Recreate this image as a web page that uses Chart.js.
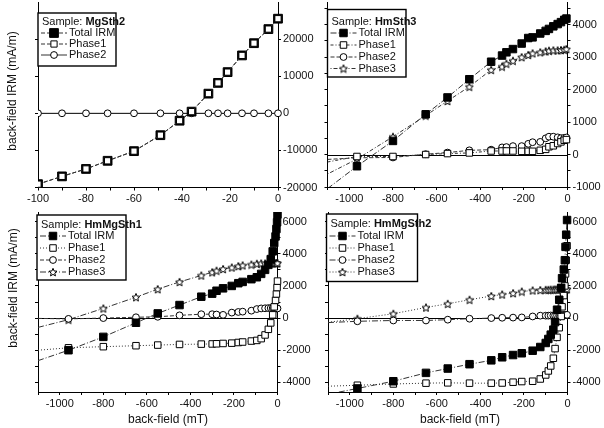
<!DOCTYPE html>
<html>
<head>
<meta charset="utf-8">
<script src="https://cdn.jsdelivr.net/npm/chart.js@4.4.1/dist/chart.umd.min.js"></script>
<style>
  html, body { margin: 0; padding: 0; background: #fff; }
  #wrap { position: relative; width: 604px; height: 428px; }
  #wrap canvas { position: absolute; left: 0; top: 0; }
</style>
</head>
<body>
<div id="wrap">
  <canvas id="tl" width="604" height="428"></canvas>
  <canvas id="tr" width="604" height="428"></canvas>
  <canvas id="bl" width="604" height="428"></canvas>
  <canvas id="br" width="604" height="428"></canvas>
</div>
<script>
// sample MgSth2 (top left), back-field in mT, IRM in mA/m
const tlField = [-100, -90, -80, -71, -60, -49, -41, -36, -29, -25, -21, -15, -10, -4, 0];
const tlTotal = [-19100, -17000, -15000, -12800, -10200, -5900, -2000, 450, 5300, 8200, 11100, 15600, 18900, 22700, 25500];
const tlPhase1 = [-19100, -17000, -15000, -12800, -10200, -5900, -2000, 450, 5300, 8200, 11100, 15600, 18900, 22700, 25500];
const tlPhase2 = [0, 0, 0, 0, 0, 0, 0, 0, 0, 0, 0, 0, 0, 0, 0];

// sample HmSth3 (top right), first point is where the curves meet the axis
const trField = [-1100, -965, -800, -650, -550, -450, -350, -300, -280, -250, -210, -180, -160, -125, -100, -85, -65, -45, -30, -15, -5];
const trTotal = [-1050, -360, 420, 1240, 1760, 2320, 2860, 3050, 3150, 3250, 3420, 3590, 3610, 3730, 3810, 3870, 3950, 4020, 4080, 4150, 4190];
const trPhase1 = [-230, -60, -60, 0, 30, 50, 110, 110, 110, 110, 100, 100, 100, 130, 160, 240, 270, 340, 390, 440, 460];
const trPhase2 = [-150, -100, -90, 10, 60, 130, 150, 220, 230, 260, 260, 330, 380, 390, 500, 550, 550, 530, 505, 515, 525];
const trPhase3 = [-600, -140, 550, 1200, 1650, 2090, 2610, 2710, 2800, 2890, 3000, 3070, 3120, 3150, 3180, 3200, 3210, 3210, 3220, 3230, 3250];

// sample HmMgSth1 (bottom left)
const blField = [-1100, -960, -800, -650, -550, -450, -350, -300, -280, -250, -210, -180, -160, -120, -95, -75, -57, -42, -31, -22, -15, -9, -5, -2, 0];
const blTotal = [-2650, -2000, -1170, -290, 290, 810, 1330, 1520, 1700, 1850, 2000, 2170, 2250, 2420, 2540, 2750, 3000, 3310, 3670, 4150, 4670, 5080, 5540, 5960, 6440];
const blPhase1 = [-2000, -1850, -1780, -1720, -1680, -1640, -1620, -1610, -1600, -1580, -1560, -1520, -1490, -1430, -1390, -1280, -1050, -700, -300, 200, 700, 1100, 1500, 1900, 2300];
const blPhase2 = [-20, -50, 0, 50, 80, 170, 240, 240, 220, 200, 340, 380, 400, 460, 560, 600, 610, 620, 620, 620, 620, 600, 600, 600, 600];
const blPhase3 = [-580, -100, 600, 1300, 1800, 2250, 2650, 2850, 2950, 3050, 3150, 3230, 3280, 3330, 3380, 3400, 3400, 3400, 3410, 3410, 3420, 3420, 3420, 3420, 3420];

// sample HmMgSth2 (bottom right)
const brField = [-1100, -965, -800, -650, -550, -450, -350, -300, -250, -210, -160, -125, -100, -88, -77, -65, -57, -48, -38, -29, -25, -17, -12, -9, -6, -2];
const brTotal = [-4740, -4380, -3930, -3410, -3140, -2870, -2630, -2440, -2300, -2190, -2030, -1800, -1550, -1300, -1030, -720, -250, 520, 1140, 1880, 2480, 3020, 3600, 4430, 5190, 6100];
const brPhase1 = [-4240, -4180, -4100, -4050, -4030, -4050, -4050, -4040, -3990, -3950, -3930, -3790, -3540, -3290, -2980, -2500, -1900, -1200, -600, 100, 700, 1400, 2000, 2750, 3600, 4500];
const brPhase2 = [-280, -200, -150, -150, -100, -40, 0, 20, 30, 40, 100, 150, 150, 150, 160, 160, 170, 170, 180, 180, 190, 190, 200, 200, 200, 200];
const brPhase3 = [-260, -40, 270, 660, 890, 1140, 1370, 1470, 1550, 1650, 1720, 1740, 1760, 1760, 1770, 1770, 1780, 1780, 1790, 1790, 1800, 1800, 1800, 1800, 1800, 1800];

// tick labels (major) and unlabeled minor ticks
const tlXTicks = [-100, -80, -60, -40, -20, 0];
const tlXMinor = [-90, -70, -50, -30, -10];
const tlYTicks = [-20000, -10000, 0, 10000, 20000];
const tlYMinor = [];
const fieldTicks = [-1000, -800, -600, -400, -200, 0];
const fieldMinor = [-1100, -900, -700, -500, -300, -100];
const trYTicks = [-1000, 0, 1000, 2000, 3000, 4000];
const trYMinor = [-500, 500, 1500, 2500, 3500, 4500];
const botYTicks = [-4000, -2000, 0, 2000, 4000, 6000];
const botYMinor = [-3000, -1000, 1000, 3000, 5000];

const FONT = "'Liberation Sans', Arial, Helvetica, sans-serif";
Chart.defaults.font.family = FONT;
Chart.defaults.font.size = 11;
Chart.defaults.color = '#111';

// open five point star used as marker for Phase3
function makeStar(size) {
  const c = document.createElement('canvas');
  c.width = c.height = size;
  const g = c.getContext('2d');
  const cx = size / 2, cy = size / 2 + 0.5, R = size / 2 - 0.8, r = R * 0.45;
  g.beginPath();
  for (let i = 0; i < 10; i++) {
    const a = -Math.PI / 2 + i * Math.PI / 5;
    const rad = i % 2 ? r : R;
    g.lineTo(cx + rad * Math.cos(a), cy + rad * Math.sin(a));
  }
  g.closePath();
  g.fillStyle = '#fff';
  g.fill();
  g.lineWidth = 1;
  g.strokeStyle = '#000';
  g.stroke();
  return c;
}
const STAR = makeStar(10);

function drawMarker(ctx, m, x, y) {
  if (m.kind === 'star') {
    ctx.drawImage(STAR, x - STAR.width / 2, y - STAR.height / 2);
    return;
  }
  ctx.beginPath();
  if (m.kind === 'circle') ctx.arc(x, y, m.r, 0, Math.PI * 2);
  else {
    const h = m.r * Math.SQRT1_2;
    ctx.rect(x - h, y - h, 2 * h, 2 * h);
  }
  ctx.fillStyle = m.kind === 'filled' ? '#000' : '#fff';
  ctx.fill();
  ctx.lineWidth = 1;
  ctx.strokeStyle = '#000';
  ctx.stroke();
}

const decor = {};

const panelDecor = {
  id: 'panelDecor',
  beforeDatasetsDraw(chart) {
    const { ctx, chartArea } = chart;
    const y0 = Math.round(chart.scales.y.getPixelForValue(0)) + 0.5;
    ctx.save();
    ctx.strokeStyle = '#000';
    ctx.lineWidth = 1.2;
    ctx.beginPath();
    ctx.moveTo(chartArea.left, y0);
    ctx.lineTo(chartArea.right, y0);
    ctx.stroke();
    ctx.restore();
  },
  afterDraw(chart) {
    const d = decor[chart.canvas.id];
    if (!d) return;
    const ctx = chart.ctx;
    const lg = d.legend;
    ctx.save();
    ctx.fillStyle = '#fff';
    ctx.fillRect(lg.x, lg.y, lg.w, lg.h);
    ctx.lineWidth = 1.4;
    ctx.strokeStyle = '#000';
    ctx.strokeRect(lg.x, lg.y, lg.w, lg.h);

    ctx.textAlign = 'left';
    ctx.textBaseline = 'middle';
    ctx.fillStyle = '#111';
    ctx.font = '11px ' + FONT;
    const tx = lg.x + 4;
    ctx.fillText('Sample: ', tx, lg.rows[0]);
    const sw = ctx.measureText('Sample: ').width;
    ctx.font = 'bold 11px ' + FONT;
    ctx.fillText(lg.sample, tx + sw, lg.rows[0]);

    d.series.forEach((s, i) => {
      const y = lg.rows[i + 1];
      ctx.beginPath();
      ctx.setLineDash(s.dash);
      ctx.lineWidth = 1;
      ctx.strokeStyle = '#333';
      ctx.moveTo(lg.x + 3, y);
      ctx.lineTo(lg.x + 29, y);
      ctx.stroke();
      ctx.setLineDash([]);
      drawMarker(ctx, s.marker, lg.x + 16, y);
      ctx.fillStyle = '#111';
      ctx.font = '11px ' + FONT;
      ctx.fillText(s.label, lg.x + 31, y);
    });

    ctx.font = '12px ' + FONT;
    ctx.textAlign = 'center';
    ctx.fillStyle = '#111';
    if (d.yTitle) {
      ctx.save();
      ctx.translate(d.yTitle.x, d.yTitle.y);
      ctx.rotate(-Math.PI / 2);
      ctx.fillText('back-field IRM (mA/m)', 0, 0);
      ctx.restore();
    }
    if (d.xTitle) ctx.fillText('back-field (mT)', d.xTitle.x, d.xTitle.y);
    ctx.restore();
  }
};

function fixSize(prop, size) {
  return function (scale) {
    scale[prop] = size;
    scale.paddingTop = 0;
    scale.paddingBottom = 0;
    scale.paddingLeft = 0;
    scale.paddingRight = 0;
  };
}

// a: {min, max, major, minor}; size is the fixed thickness of the axis box
function axis(pos, a, size, showLabels) {
  const all = a.major.concat(a.minor).sort((p, q) => p - q);
  return {
    type: 'linear',
    position: pos,
    min: a.min,
    max: a.max,
    grid: { drawOnChartArea: false, drawTicks: true, tickLength: 3, color: '#000', lineWidth: 1 },
    border: { display: true, color: '#000', width: 1 },
    ticks: {
      display: showLabels,
      autoSkip: false,
      maxRotation: 0,
      padding: 2,
      color: '#111',
      callback: v => a.major.includes(v) ? String(v) : ''
    },
    afterBuildTicks: scale => { scale.ticks = all.map(v => ({ value: v })); },
    afterFit: fixSize(pos === 'bottom' ? 'height' : 'width', size)
  };
}

function dataset(s) {
  const m = s.marker;
  let style = 'rect', bg = '#fff';
  if (m.kind === 'filled') bg = '#000';
  if (m.kind === 'circle') style = 'circle';
  if (m.kind === 'star') style = STAR;
  return {
    label: s.label,
    data: s.field.map((x, i) => ({ x: x, y: s.values[i] })),
    borderColor: '#333',
    borderWidth: 1,
    borderDash: s.dash,
    pointStyle: style,
    pointRadius: s.field.map(x => x < -1050 ? 0 : m.r),
    pointHoverRadius: s.field.map(x => x < -1050 ? 0 : m.r),
    pointBackgroundColor: bg,
    pointBorderColor: '#000',
    pointBorderWidth: 1,
    tension: 0,
    order: s.order || 0,
    clip: { left: 0, top: 0, right: 6, bottom: 0 }
  };
}

function makePanel(id, cfg) {
  decor[id] = cfg;
  new Chart(document.getElementById(id), {
    type: 'line',
    data: { datasets: cfg.series.map(dataset) },
    options: {
      responsive: false,
      animation: false,
      devicePixelRatio: 1,
      events: [],
      layout: { autoPadding: false, padding: cfg.pad },
      plugins: { legend: { display: false }, tooltip: { enabled: false } },
      scales: {
        x: axis('bottom', cfg.x, 22, true),
        y: axis('left', cfg.y, 4, false),
        y2: axis('right', cfg.y, cfg.rightW, true)
      }
    },
    plugins: [panelDecor]
  });
}

const FILLED = { kind: 'filled', r: 5.3 };
const OPEN = { kind: 'open', r: 4.6 };
const CIRCLE = { kind: 'circle', r: 3.4 };
const STARM = { kind: 'star', r: 5 };
const DASH = [4, 2];
const DASHDOT = [6, 2, 1, 2];
const DOT = [1, 2];

const longX = { min: -1100, max: 0, major: fieldTicks, minor: fieldMinor };
const botY = { min: -4600, max: 6600, major: botYTicks, minor: botYMinor };

makePanel('tl', {
  pad: { left: 34, right: 286, top: 2, bottom: 218.5 },
  rightW: 40,
  x: { min: -100, max: 0, major: tlXTicks, minor: tlXMinor },
  y: { min: -20000, max: 30000, major: tlYTicks, minor: tlYMinor },
  legend: { x: 38, y: 13, w: 78, h: 53, rows: [21.5, 33, 44, 55], sample: 'MgSth2' },
  yTitle: { x: 13, y: 91 },
  series: [
    { label: 'Total IRM', field: tlField, values: tlTotal, dash: DASH, marker: { kind: 'filled', r: 6.2 }, order: 1 },
    { label: 'Phase1', field: tlField, values: tlPhase1, dash: DASH, marker: { kind: 'open', r: 4.4 }, order: 0 },
    { label: 'Phase2', field: tlField, values: tlPhase2, dash: [], marker: CIRCLE, order: 2 }
  ]
});

makePanel('tr', {
  pad: { left: 323.5, right: 0.5, top: 2, bottom: 219 },
  rightW: 36,
  x: longX,
  y: { min: -1000, max: 4700, major: trYTicks, minor: trYMinor },
  legend: { x: 327.5, y: 9.5, w: 78.5, h: 67.5, rows: [21.5, 33, 45, 57, 68.5], sample: 'HmSth3' },
  series: [
    { label: 'Total IRM', field: trField, values: trTotal, dash: DASHDOT, marker: FILLED },
    { label: 'Phase1', field: trField, values: trPhase1, dash: [3, 2, 1, 2], marker: OPEN },
    { label: 'Phase2', field: trField, values: trPhase2, dash: DASH, marker: CIRCLE },
    { label: 'Phase3', field: trField, values: trPhase3, dash: [1, 2, 4, 2], marker: STARM }
  ]
});

makePanel('bl', {
  pad: { left: 34, right: 286.5, top: 212, bottom: 14 },
  rightW: 40,
  x: longX,
  y: botY,
  legend: { x: 37, y: 215, w: 89, h: 65, rows: [224.5, 236, 248, 260, 272], sample: 'HmMgSth1' },
  yTitle: { x: 14, y: 288 },
  xTitle: { x: 168, y: 420 },
  series: [
    { label: 'Total IRM', field: blField, values: blTotal, dash: DASHDOT, marker: FILLED },
    { label: 'Phase1', field: blField, values: blPhase1, dash: DOT, marker: OPEN },
    { label: 'Phase2', field: blField, values: blPhase2, dash: DASH, marker: CIRCLE },
    { label: 'Phase3', field: blField, values: blPhase3, dash: DASHDOT, marker: STARM }
  ]
});

makePanel('br', {
  pad: { left: 324, right: 0.5, top: 212, bottom: 14 },
  rightW: 36,
  x: longX,
  y: botY,
  legend: { x: 326.5, y: 214, w: 91, h: 67.5, rows: [224, 236, 248, 260, 272], sample: 'HmMgSth2' },
  xTitle: { x: 460, y: 420 },
  series: [
    { label: 'Total IRM', field: brField, values: brTotal, dash: DASHDOT, marker: FILLED },
    { label: 'Phase1', field: brField, values: brPhase1, dash: DOT, marker: OPEN },
    { label: 'Phase2', field: brField, values: brPhase2, dash: DASHDOT, marker: CIRCLE },
    { label: 'Phase3', field: brField, values: brPhase3, dash: DOT, marker: STARM }
  ]
});
</script>
</body>
</html>
